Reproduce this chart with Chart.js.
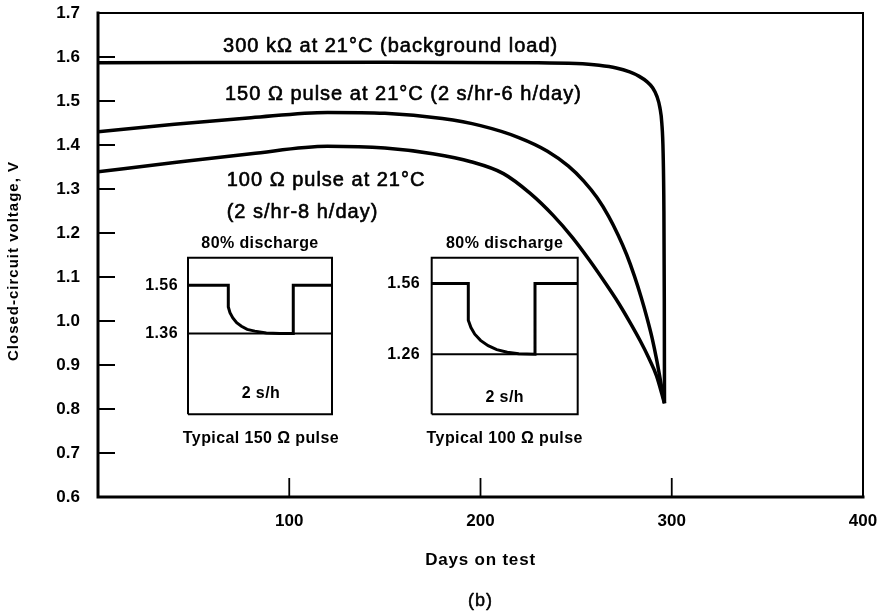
<!DOCTYPE html>
<html><head><meta charset="utf-8">
<script src="https://cdn.jsdelivr.net/npm/chart.js@4/dist/chart.umd.min.js"></script>
<style>html,body{margin:0;padding:0;background:#fff}</style>
</head><body>
<canvas id="c" width="891" height="614"></canvas>
<script>
// ---- data (days on test, closed-circuit voltage V) ----
const days300k  = [0, 150, 230, 250, 262, 271, 278, 283, 287, 290, 292.3, 293.8, 294.8, 295.5, 295.9, 296.1, 296.2];
const volts300k = [1.587, 1.588, 1.587, 1.585, 1.581, 1.575, 1.566, 1.556, 1.544, 1.530, 1.510, 1.485, 1.45, 1.38, 1.25, 1.05, 0.813];

const days150  = [0, 40, 80, 120, 150, 180, 200, 220, 235, 246, 254, 261, 267, 272, 276.5, 280.5, 284, 287, 289.8, 292.2, 294.2, 296.2];
const volts150 = [1.430, 1.447, 1.462, 1.474, 1.472, 1.460, 1.444, 1.417, 1.386, 1.352, 1.318, 1.280, 1.238, 1.195, 1.150, 1.102, 1.054, 1.008, 0.960, 0.910, 0.862, 0.813];

const days100  = [0, 40, 80, 120, 150, 175, 195, 212, 226, 238, 248, 257, 265, 272, 278, 283.5, 288, 292, 296.2];
const volts100 = [1.339, 1.360, 1.380, 1.397, 1.393, 1.380, 1.362, 1.335, 1.290, 1.240, 1.190, 1.138, 1.088, 1.042, 0.998, 0.955, 0.916, 0.876, 0.813];

const xTickValues = [100, 200, 300, 400];
const yTickValues = [0.6, 0.7, 0.8, 0.9, 1.0, 1.1, 1.2, 1.3, 1.4, 1.5, 1.6, 1.7];

// inset sketches, placed in the main chart's (days, volts) space
const inset150BoxX = [47.06, 47.06, 122.35, 122.35, 47.06];
const inset150BoxY = [0.788, 1.144, 1.144, 0.788, 0.788];
const inset150BaseX = [47.06, 122.35];
const inset150BaseY = [0.9714, 0.9714];
const inset150TraceX = [47.06, 68.13, 68.13, 69.0, 70.5, 72.5, 75, 78, 82, 88, 95, 102.1, 102.1, 122.35];
const inset150TraceY = [1.081, 1.081, 1.032, 1.019, 1.007, 0.996, 0.988, 0.981, 0.977, 0.973, 0.9717, 0.9714, 1.081, 1.081];

const inset100BoxX = [174.48, 174.48, 250.82, 250.82, 174.48];
const inset100BoxY = [0.788, 1.144, 1.144, 0.788, 0.788];
const inset100BaseX = [174.48, 250.82];
const inset100BaseY = [0.9243, 0.9243];
const inset100TraceX = [174.48, 193.62, 193.62, 195, 197, 200, 204, 208.5, 214, 220, 228.5, 228.5, 250.82];
const inset100TraceY = [1.085, 1.085, 1.0016, 0.985, 0.970, 0.956, 0.944, 0.935, 0.929, 0.9255, 0.9243, 1.085, 1.085];

// text labels: [text, day, volt, align, kind]
const labels = [
  ['300 k\u03A9 at 21\u00B0C (background load)', 65.4, 1.623, 'left', 'ann'],
  ['150 \u03A9 pulse at 21\u00B0C (2 s/hr-6 h/day)', 66.4, 1.5145, 'left', 'ann'],
  ['100 \u03A9 pulse at 21\u00B0C', 67.3, 1.3198, 'left', 'ann'],
  ['(2 s/hr-8 h/day)', 67.3, 1.247, 'left', 'ann'],
  ['80% discharge', 84.7, 1.1766, 'center', 'ins'],
  ['1.56', 41.8, 1.081, 'right', 'ins'],
  ['1.36', 41.8, 0.9714, 'right', 'ins'],
  ['2 s/h', 85.2, 0.8357, 'center', 'ins'],
  ['Typical 150 \u03A9 pulse', 85.2, 0.7334, 'center', 'ins'],
  ['80% discharge', 212.65, 1.1766, 'center', 'ins'],
  ['1.56', 168.4, 1.085, 'right', 'ins'],
  ['1.26', 168.4, 0.9243, 'right', 'ins'],
  ['2 s/h', 212.65, 0.825, 'center', 'ins'],
  ['Typical 100 \u03A9 pulse', 212.65, 0.7334, 'center', 'ins']
];

const FONT = "'Liberation Sans', Arial, Helvetica, sans-serif";
const pts = (xs, ys) => xs.map((x, i) => ({x: x, y: ys[i]}));

function curve(xs, ys) {
  return {data: pts(xs, ys), borderColor: '#000', borderWidth: 3.5, pointRadius: 0,
          cubicInterpolationMode: 'monotone', fill: false};
}
function sketch(xs, ys, w) {
  return {data: pts(xs, ys), borderColor: '#000', borderWidth: w, pointRadius: 0,
          tension: 0, fill: false, borderJoinStyle: 'miter'};
}

const framePlugin = {
  id: 'frame',
  afterDatasetsDraw(chart) {
    const ctx = chart.ctx, a = chart.chartArea;
    const xs = chart.scales.x, ys = chart.scales.y;
    ctx.save();
    ctx.strokeStyle = '#000';
    ctx.lineCap = 'square';
    ctx.lineWidth = 2;
    ctx.beginPath();
    ctx.moveTo(a.left, a.top); ctx.lineTo(a.right, a.top); ctx.lineTo(a.right, a.bottom);
    ctx.stroke();
    ctx.lineWidth = 3;
    ctx.beginPath();
    ctx.moveTo(a.left, a.top); ctx.lineTo(a.left, a.bottom); ctx.lineTo(a.right, a.bottom);
    ctx.stroke();
    ctx.lineCap = 'butt';
    ctx.lineWidth = 2;
    yTickValues.forEach(v => {
      if (v <= 0.6 || v >= 1.7) return;
      const y = ys.getPixelForValue(v);
      ctx.beginPath(); ctx.moveTo(a.left, y); ctx.lineTo(a.left + 17, y); ctx.stroke();
    });
    ctx.lineWidth = 1.8;
    xTickValues.forEach(v => {
      if (v >= 400) return;
      const x = xs.getPixelForValue(v);
      ctx.beginPath(); ctx.moveTo(x, a.bottom); ctx.lineTo(x, a.bottom - 19); ctx.stroke();
    });
    ctx.fillStyle = '#000';
    ctx.textBaseline = 'middle';
    ctx.lineJoin = 'round';
    labels.forEach(l => {
      ctx.textAlign = l[3];
      const px = xs.getPixelForValue(l[1]), py = ys.getPixelForValue(l[2]);
      if (l[4] === 'ann') {
        ctx.font = '20px ' + FONT; ctx.letterSpacing = '1px';
        ctx.lineWidth = 0.6;
        ctx.fillText(l[0], px, py);
        ctx.strokeText(l[0], px, py);
      } else {
        ctx.font = 'bold 16px ' + FONT; ctx.letterSpacing = '0.4px';
        ctx.fillText(l[0], px, py);
      }
    });
    ctx.textAlign = 'center';
    ctx.letterSpacing = '0.8px';
    ctx.font = 'bold 17px ' + FONT;
    ctx.fillText('Days on test', (a.left + a.right) / 2, 560);
    ctx.letterSpacing = '1px';
    ctx.font = '18px ' + FONT;
    ctx.lineWidth = 0.5;
    ctx.fillText('(b)', (a.left + a.right) / 2, 601);
    ctx.strokeText('(b)', (a.left + a.right) / 2, 601);
    ctx.translate(14, (a.top + a.bottom) / 2 + 6);
    ctx.rotate(-Math.PI / 2);
    ctx.letterSpacing = '1px';
    ctx.font = 'bold 15px ' + FONT;
    ctx.fillText('Closed-circuit voltage, V', 0, 0);
    ctx.restore();
  }
};

new Chart(document.getElementById('c'), {
  type: 'line',
  data: {
    datasets: [
      curve(days300k, volts300k),
      curve(days150, volts150),
      curve(days100, volts100),
      sketch(inset150BoxX, inset150BoxY, 2),
      sketch(inset150BaseX, inset150BaseY, 2),
      sketch(inset150TraceX, inset150TraceY, 3),
      sketch(inset100BoxX, inset100BoxY, 2),
      sketch(inset100BaseX, inset100BaseY, 2),
      sketch(inset100TraceX, inset100TraceY, 3)
    ]
  },
  options: {
    responsive: false,
    animation: false,
    events: [],
    layout: {padding: {top: 13, right: 28, left: 0, bottom: 0}},
    plugins: {legend: {display: false}, tooltip: {enabled: false}},
    scales: {
      x: {
        type: 'linear', min: 0, max: 400,
        afterFit(s) { s.height = 117; s.paddingLeft = 0; s.paddingRight = 0; },
        afterBuildTicks(s) { s.ticks = xTickValues.map(v => ({value: v})); },
        grid: {display: false, drawTicks: false},
        border: {display: false},
        ticks: {color: '#000', padding: 14, font: {family: FONT, size: 17, weight: 'bold'},
                callback: v => String(v), maxRotation: 0, autoSkip: false}
      },
      y: {
        type: 'linear', min: 0.6, max: 1.7,
        afterFit(s) { s.width = 98; s.paddingTop = 0; s.paddingBottom = 0; },
        afterBuildTicks(s) { s.ticks = yTickValues.map(v => ({value: v})); },
        grid: {display: false, drawTicks: false},
        border: {display: false},
        ticks: {color: '#000', padding: 18, font: {family: FONT, size: 17, weight: 'bold'},
                callback: v => Number(v).toFixed(1), autoSkip: false}
      }
    }
  },
  plugins: [framePlugin]
});
</script>
</body></html>
